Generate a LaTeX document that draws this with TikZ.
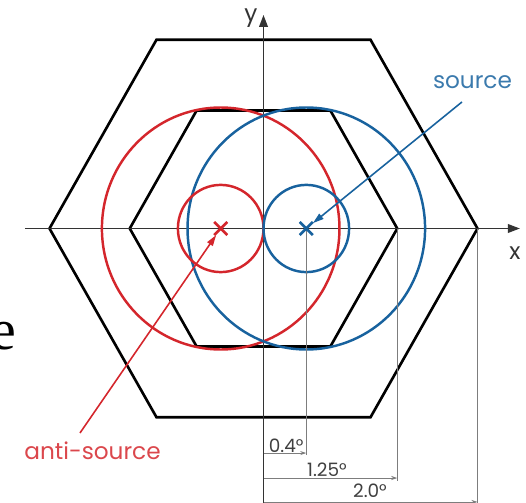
\documentclass[tikz,border=0pt]{standalone}
\usepackage{fontspec}
\setmainfont{Poppins}
\newfontfamily\bigserif{Liberation Serif}
\usepackage{tikz}
\usetikzlibrary{arrows, positioning, calc, arrows.meta, shapes.misc}
\definecolor{srcblue}{RGB}{24,98,158}
\definecolor{antired}{RGB}{212,38,44}
\definecolor{dimgray}{RGB}{125,125,125}

\begin{document}
\begin{tikzpicture}[x=2.14cm,y=2.18cm,
  hexline/.style={line width=1.5pt,black},
  axisline/.style={line width=1.1pt,black!80,-{Triangle[length=0.24cm,width=0.17cm]}},
  ring/.style={line width=1.4pt},
  srcmark/.style={cross out,draw,line width=1.5pt,minimum size=0.21cm,inner sep=0pt},
  pointer/.style={line width=0.9pt,-{Triangle[length=0.22cm,width=0.13cm]}},
  dimline/.style={line width=0.45pt,dimgray},
  dimarrow/.style={dimline,-{Stealth[length=0.12cm,width=0.08cm]}},
  dimlabel/.style={font=\fontsize{10.5}{12}\selectfont,text=black!75,inner sep=0pt},
  biglabel/.style={font=\fontsize{13.2}{15}\selectfont,inner sep=1pt}]
  \useasboundingbox (-2.4626,-2.5183) rectangle (2.4533,2.0963);
%---------------------------------------------------------------------------
  \draw[hexline] (-2,0) -- (-1,1.732) -- (1,1.732) -- (2,0) -- (1,-1.732) -- (-1,-1.732) -- cycle;
  \draw[hexline] (-1.25,0) -- (-0.625,1.0825) -- (0.625,1.0825) -- (1.25,0) -- (0.625,-1.0825) -- (-0.625,-1.0825) -- cycle;
%---------------------------------------------------------------------------
  \coordinate (xstart) at (-2.229,0);
  \coordinate (xend) at (2.397,0);
  \coordinate (ystart) at (0,-2.6);
  \coordinate (yend) at (0,1.96);
  \draw[axisline] (xstart) -- (xend);
  \draw[axisline] (ystart) -- (yend);
  \node[biglabel,text=black!80] (xlab) at (2.350,-0.225) {x};
  \node[biglabel,text=black!80] (ylab) at (-0.117,1.931) {y};
%---------------------------------------------------------------------------
  \draw[ring,antired] (-0.4,0) circle (1.11);
  \draw[ring,srcblue] (0.4,0) circle (1.11);
  \draw[ring,antired] (-0.4,0) circle (0.4);
  \draw[ring,srcblue] (0.4,0) circle (0.4);
%---------------------------------------------------------------------------
  \draw[dimline] (0.4,0) -- (0.4,-2.078);
  \draw[dimline] (1.25,0) -- (1.25,-2.317);
  \draw[dimline] (2,0) -- (2,-2.6);
  \draw[dimarrow] (0,-2.06) -- (0.4,-2.06);
  \draw[dimarrow] (0,-2.289) -- (1.25,-2.289);
  \draw[dimarrow] (0,-2.509) -- (2,-2.509);
  \node[dimlabel] (dsmall) at (0.212,-1.995) {0.4°};
  \node[dimlabel] (dmid) at (0.593,-2.216) {1.25°};
  \node[dimlabel] (dbig) at (0.995,-2.405) {2.0°};
%---------------------------------------------------------------------------
  \node[srcmark,draw=antired] (anti) at (-0.4,0) {};
  \node[srcmark,draw=srcblue] (src) at (0.4,0) {};
  \node[biglabel,text=srcblue!85!white] (srclab) at (1.953,1.339) {source};
  \node[biglabel,text=antired!85!white] (antilab) at (-1.598,-2.041) {anti-source};
  \coordinate (srctail) at (1.855,1.161);
  \coordinate (antitail) at (-1.715,-1.876);
  \draw[pointer,srcblue] (srctail) -- (src);
  \draw[pointer,antired] (antitail) -- (anti);
%---------------------------------------------------------------------------
  \node[font=\bigserif\fontsize{33}{38}\selectfont,anchor=base east,inner sep=0pt] (cutletter) at (-2.304,-1.106) {e};
\end{tikzpicture}
\end{document}
